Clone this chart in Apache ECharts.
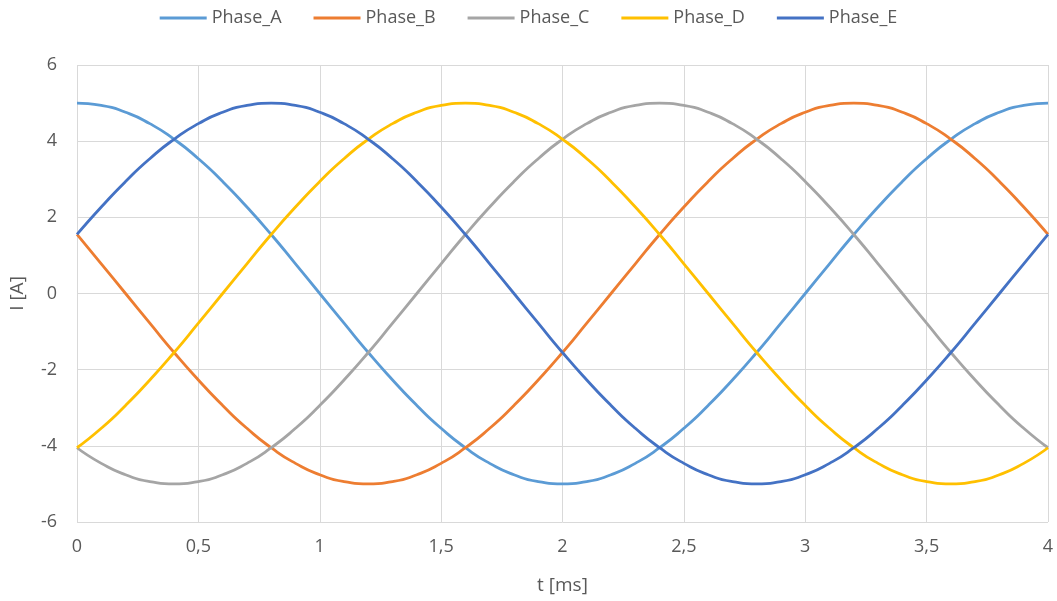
<!DOCTYPE html>
<html>
<head>
<meta charset="utf-8">
<script src="https://cdn.jsdelivr.net/npm/echarts@6/dist/echarts.min.js"></script>
<style>
  html, body { margin: 0; padding: 0; background: #fff; }
  #graphics { width: 1057px; height: 601px; }
</style>
</head>
<body>
<div id="graphics"></div>
<script>
// time axis [ms], step 0.1
const t = ['0','0.1','0.2','0.3','0.4','0.5','0.6','0.7','0.8','0.9','1','1.1','1.2','1.3','1.4','1.5','1.6','1.7','1.8','1.9','2',
  '2.1','2.2','2.3','2.4','2.5','2.6','2.7','2.8','2.9','3','3.1','3.2','3.3','3.4','3.5','3.6','3.7','3.8','3.9','4'];

// phase currents [A]
const phaseA = [5.00,4.94,4.76,4.46,4.05,3.54,2.94,2.27,1.55,0.78,0,-0.78,-1.55,-2.27,-2.94,-3.54,-4.05,-4.46,-4.76,-4.94,-5.00,
  -4.94,-4.76,-4.46,-4.05,-3.54,-2.94,-2.27,-1.55,-0.78,0,0.78,1.55,2.27,2.94,3.54,4.05,4.46,4.76,4.94,5.00];
const phaseB = [1.55,0.78,0,-0.78,-1.55,-2.27,-2.94,-3.54,-4.05,-4.46,-4.76,-4.94,-5.00,-4.94,-4.76,-4.46,-4.05,-3.54,-2.94,-2.27,-1.55,
  -0.78,0,0.78,1.55,2.27,2.94,3.54,4.05,4.46,4.76,4.94,5.00,4.94,4.76,4.46,4.05,3.54,2.94,2.27,1.55];
const phaseC = [-4.05,-4.46,-4.76,-4.94,-5.00,-4.94,-4.76,-4.46,-4.05,-3.54,-2.94,-2.27,-1.55,-0.78,0,0.78,1.55,2.27,2.94,3.54,4.05,
  4.46,4.76,4.94,5.00,4.94,4.76,4.46,4.05,3.54,2.94,2.27,1.55,0.78,0,-0.78,-1.55,-2.27,-2.94,-3.54,-4.05];
const phaseD = [-4.05,-3.54,-2.94,-2.27,-1.55,-0.78,0,0.78,1.55,2.27,2.94,3.54,4.05,4.46,4.76,4.94,5.00,4.94,4.76,4.46,4.05,
  3.54,2.94,2.27,1.55,0.78,0,-0.78,-1.55,-2.27,-2.94,-3.54,-4.05,-4.46,-4.76,-4.94,-5.00,-4.94,-4.76,-4.46,-4.05];
const phaseE = [1.55,2.27,2.94,3.54,4.05,4.46,4.76,4.94,5.00,4.94,4.76,4.46,4.05,3.54,2.94,2.27,1.55,0.78,0,-0.78,-1.55,
  -2.27,-2.94,-3.54,-4.05,-4.46,-4.76,-4.94,-5.00,-4.94,-4.76,-4.46,-4.05,-3.54,-2.94,-2.27,-1.55,-0.78,0,0.78,1.55];

const names = ['Phase_A', 'Phase_B', 'Phase_C', 'Phase_D', 'Phase_E'];
const values = [phaseA, phaseB, phaseC, phaseD, phaseE];
const colors = ['#5B9BD5', '#ED7D31', '#A5A5A5', '#FFC000', '#4472C4'];

const font = 'Open Sans';
const textColor = '#595959';

var myChart = echarts.init(document.getElementById('graphics'));

var option = {
    animation: false,
    color: colors,
    textStyle: { fontFamily: font },
    legend: {
        top: 4,
        left: 'center',
        itemWidth: 47,
        itemHeight: 3,
        itemGap: 32,
        icon: 'rect',
        textStyle: { color: textColor, fontSize: 18, fontFamily: font },
        data: names
    },
    grid: { left: 76, right: 9, top: 65, bottom: 79 },
    xAxis: {
        type: 'value',
        min: 0, max: 4, interval: 0.5,
        name: 't [ms]',
        nameLocation: 'middle',
        nameGap: 54,
        nameTextStyle: { color: textColor, fontSize: 19, fontFamily: font },
        axisLine: { show: false },
        axisTick: { show: false },
        axisLabel: {
            color: textColor, fontSize: 18, margin: 16, fontFamily: font,
            formatter: function (v) { return String(v).replace('.', ','); }
        },
        splitLine: { show: true, lineStyle: { color: '#D9D9D9', width: 1 } }
    },
    yAxis: {
        type: 'value',
        min: -6, max: 6, interval: 2,
        name: 'I [A]',
        nameLocation: 'middle',
        nameGap: 50,
        nameTextStyle: { color: textColor, fontSize: 19, fontFamily: font },
        axisLine: { show: false },
        axisTick: { show: false },
        axisLabel: { color: textColor, fontSize: 18, margin: 20, fontFamily: font },
        splitLine: { show: true, lineStyle: { color: '#D9D9D9', width: 1 } }
    },
    series: names.map(function (n, i) {
        return {
            name: n,
            type: 'line',
            smooth: 0.6,
            showSymbol: false,
            lineStyle: { width: 2.8, color: colors[i] },
            data: t.map(function (x, k) { return [Number(x), values[i][k]]; })
        };
    })
};

myChart.setOption(option);
</script>
</body>
</html>
